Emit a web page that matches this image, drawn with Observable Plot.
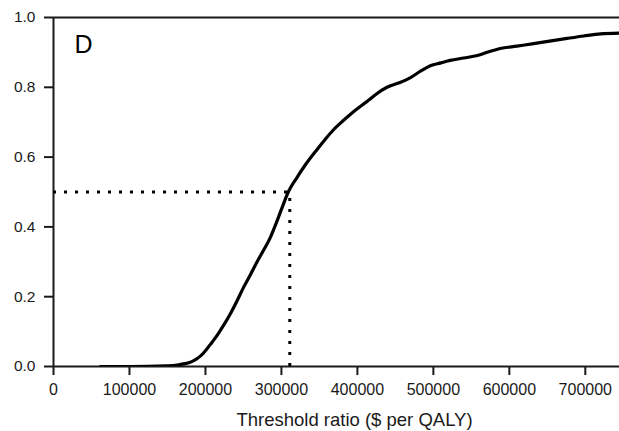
<!DOCTYPE html>
<html>
<head>
<meta charset="utf-8">
<script src="https://cdn.jsdelivr.net/npm/d3@7"></script>
<script src="https://cdn.jsdelivr.net/npm/@observablehq/plot@0.6"></script>
<style>
  html, body { margin: 0; padding: 0; background: #fff; }
</style>
</head>
<body>
<div id="chart"></div>
<script>
// Cost-effectiveness acceptability curve (panel D)
const thresholds = [62000, 100000, 150000, 165000, 175000, 182000, 188000, 194000, 200000, 206000, 212000, 218000, 225000, 233000, 242000, 250000, 259000, 268000, 277000, 285500, 293000, 300000, 309000, 320000, 330000, 347000, 358000, 368000, 380000, 391000, 402000, 413000, 425000, 439000, 455000, 470000, 483000, 496000, 510000, 522000, 540000, 558000, 572000, 588000, 610000, 632000, 655000, 676000, 698000, 720000, 745000];
const probabilities = [0, 0, 0.002, 0.005, 0.009, 0.014, 0.021, 0.031, 0.045, 0.062, 0.079, 0.098, 0.122, 0.152, 0.19, 0.226, 0.262, 0.30, 0.335, 0.37, 0.41, 0.45, 0.50, 0.54, 0.573, 0.622, 0.652, 0.677, 0.702, 0.723, 0.742, 0.76, 0.781, 0.80, 0.813, 0.828, 0.846, 0.862, 0.87, 0.877, 0.884, 0.891, 0.901, 0.911, 0.918, 0.925, 0.933, 0.94, 0.947, 0.953, 0.955];
const xTicks = [0, 100000, 200000, 300000, 400000, 500000, 600000, 700000];
const yTicks = [0, 0.2, 0.4, 0.6, 0.8, 1.0];
const medianThreshold = 311000;
const medianProbability = 0.5;
const panelLabel = "D";
const xLabel = "Threshold ratio ($ per QALY)";

const curve = thresholds.map((x, i) => ({x, y: probabilities[i]}));
const ink = "#1a1a1a";

const chart = Plot.plot({
  width: 619,
  height: 431,
  marginLeft: 53,
  marginRight: 0,
  marginTop: 17,
  marginBottom: 65,
  x: {domain: [0, 745000]},
  y: {domain: [0, 1]},
  style: {fontFamily: "'Liberation Sans', Arial, sans-serif", color: ink, background: "#fff"},
  marks: [
    Plot.axisY({ticks: yTicks, tickFormat: d => d.toFixed(1), tickSize: 9, tickPadding: 9, fontSize: 15.5, label: null, strokeWidth: 2, stroke: ink}),
    Plot.axisX({ticks: xTicks, tickFormat: d => String(d), tickSize: 9, tickPadding: 8, fontSize: 16, label: null, strokeWidth: 2, stroke: ink}),
    Plot.ruleX([0], {stroke: ink, strokeWidth: 2}),
    Plot.ruleY([0], {stroke: ink, strokeWidth: 2}),
    Plot.ruleY([1], {stroke: ink, strokeWidth: 2}),
    Plot.ruleY([medianProbability], {x1: 0, x2: medianThreshold, stroke: "#000", strokeWidth: 3, strokeDasharray: "3,8"}),
    Plot.ruleX([medianThreshold], {y1: 0, y2: medianProbability, stroke: "#000", strokeWidth: 3, strokeDasharray: "3,8"}),
    Plot.line(curve, {x: "x", y: "y", stroke: "#000", strokeWidth: 3.2, curve: "monotone-x", clip: true}),
    Plot.text([panelLabel], {frameAnchor: "top-left", dx: 21, dy: 18, lineAnchor: "top", textAnchor: "start", fontSize: 25, fill: "#000"}),
    Plot.text([xLabel], {frameAnchor: "bottom", dx: 18, dy: 59, lineAnchor: "bottom", fontSize: 18.5, fill: ink})
  ]
});
document.getElementById("chart").appendChild(chart);
</script>
</body>
</html>
